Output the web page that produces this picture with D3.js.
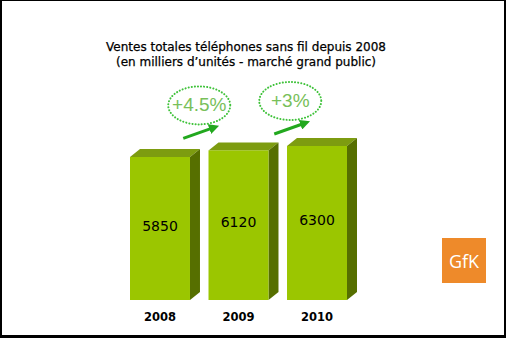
<!DOCTYPE html>
<html>
<head>
<meta charset="utf-8">
<script src="https://cdn.jsdelivr.net/npm/d3@7"></script>
<style>
  body { margin: 0; background: #000; }
  svg { display: block; }
</style>
</head>
<body>
<div id="chart"></div>
<script>
// data
var years = ["2008", "2009", "2010"];
var values = [5850, 6120, 6300];
var growth = ["+4.5%", "+3%"];
var titleLines = ["Ventes totales téléphones sans fil depuis 2008",
                  "(en milliers d\u2019unités - marché grand public)"];

function init() {
    var w = 506, h = 338;
    var depthX = 10, depthY = 8;

    var svg = d3.select("#chart").append("svg")
        .attr("width", w).attr("height", h);

    // black frame with white sheet
    svg.append("rect").attr("width", w).attr("height", h).attr("fill", "#000");
    svg.append("rect").attr("x", 2).attr("y", 1)
        .attr("width", w - 4).attr("height", h - 4).attr("fill", "#fff");

    var x = d3.scaleBand().domain(years).range([130, 347]).paddingInner(0.236);
    var y = d3.scaleLinear().domain([0, 6300]).range([300, 146]);

    // title
    svg.append("g").selectAll("text")
        .data(titleLines).enter().append("text")
        .attr("x", 246)
        .attr("y", function(d, i) { return 51 + i * 15; })
        .attr("text-anchor", "middle")
        .attr("font-family", "DejaVu Sans, sans-serif")
        .attr("font-size", 12)
        .attr("fill", "#000")
        .attr("stroke", "#000")
        .attr("stroke-width", 0.25)
        .text(function(d) { return d; });

    var bars = svg.selectAll("g.bar")
        .data(values).enter().append("g").attr("class", "bar");

    var bw = x.bandwidth();
    // top face
    bars.append("path")
        .attr("fill", "#7d9c10")
        .attr("d", function(d, i) {
            var x0 = x(years[i]), yt = y(d);
            return "M" + x0 + "," + yt + "L" + (x0 + depthX) + "," + (yt - depthY) +
                "L" + (x0 + bw + depthX) + "," + (yt - depthY) + "L" + (x0 + bw) + "," + yt + "Z";
        });
    // side face
    bars.append("path")
        .attr("fill", "#566f00")
        .attr("d", function(d, i) {
            var x1 = x(years[i]) + bw, yt = y(d), yb = y(0);
            return "M" + x1 + "," + yt + "L" + (x1 + depthX) + "," + (yt - depthY) +
                "L" + (x1 + depthX) + "," + (yb - depthY) + "L" + x1 + "," + yb + "Z";
        });
    // front face
    bars.append("rect")
        .attr("x", function(d, i) { return x(years[i]); })
        .attr("y", function(d) { return y(d); })
        .attr("width", bw)
        .attr("height", function(d) { return y(0) - y(d); })
        .attr("fill", "#9bc600");

    // value labels
    bars.append("text")
        .attr("x", function(d, i) { return x(years[i]) + bw / 2; })
        .attr("y", function(d) { return (y(d) + y(0)) / 2 + 2; })
        .attr("text-anchor", "middle")
        .attr("font-family", "DejaVu Sans, sans-serif")
        .attr("font-size", 14)
        .attr("fill", "#000")
        .text(function(d) { return d; });

    // year labels
    svg.append("g").selectAll("text")
        .data(years).enter().append("text")
        .attr("x", function(d) { return x(d) + bw / 2; })
        .attr("y", 321)
        .attr("text-anchor", "middle")
        .attr("font-family", "DejaVu Sans, sans-serif")
        .attr("font-weight", "bold")
        .attr("font-size", 11.5)
        .attr("fill", "#000")
        .text(function(d) { return d; });

    // growth annotations
    svg.append("defs").append("marker")
        .attr("id", "arr")
        .attr("viewBox", "0 0 10 10")
        .attr("refX", 5).attr("refY", 5)
        .attr("markerWidth", 3.4).attr("markerHeight", 3.4)
        .attr("orient", "auto")
        .append("path").attr("d", "M0,0L10,5L0,10Z").attr("fill", "#22a81e");

    var ann = svg.selectAll("g.ann")
        .data(growth).enter().append("g").attr("class", "ann")
        .attr("transform", function(d, i) {
            var cx = (x(years[i]) + x(years[i + 1])) / 2 + bw / 2 + i * 12.5;
            var cy = y(values[i + 1]) - 45;
            return "translate(" + cx + "," + cy + ")";
        });

    ann.append("ellipse")
        .attr("rx", 31).attr("ry", 19)
        .attr("fill", "none")
        .attr("stroke", "#3fc23a")
        .attr("stroke-width", 2)
        .attr("stroke-dasharray", "0.1,3")
        .attr("stroke-linecap", "round");

    ann.append("text")
        .attr("y", 6)
        .attr("text-anchor", "middle")
        .attr("font-family", "Liberation Sans, Arial, sans-serif")
        .attr("font-size", 19)
        .attr("fill", "#78c05a")
        .text(function(d) { return d; });

    ann.append("line")
        .attr("x1", -16).attr("y1", 33)
        .attr("x2", 15).attr("y2", 22)
        .attr("stroke", "#22a81e")
        .attr("stroke-width", 3)
        .attr("marker-end", "url(#arr)");

    // GfK logo
    svg.append("rect")
        .attr("x", 442).attr("y", 238)
        .attr("width", 44).attr("height", 45)
        .attr("fill", "#ee8a2a");
    svg.append("text")
        .attr("x", 464).attr("y", 268)
        .attr("text-anchor", "middle")
        .attr("font-family", "Open Sans, sans-serif")
        .attr("font-size", 18)
        .attr("fill", "#fff")
        .text("GfK");
}

window.onload = init;
</script>
</body>
</html>
